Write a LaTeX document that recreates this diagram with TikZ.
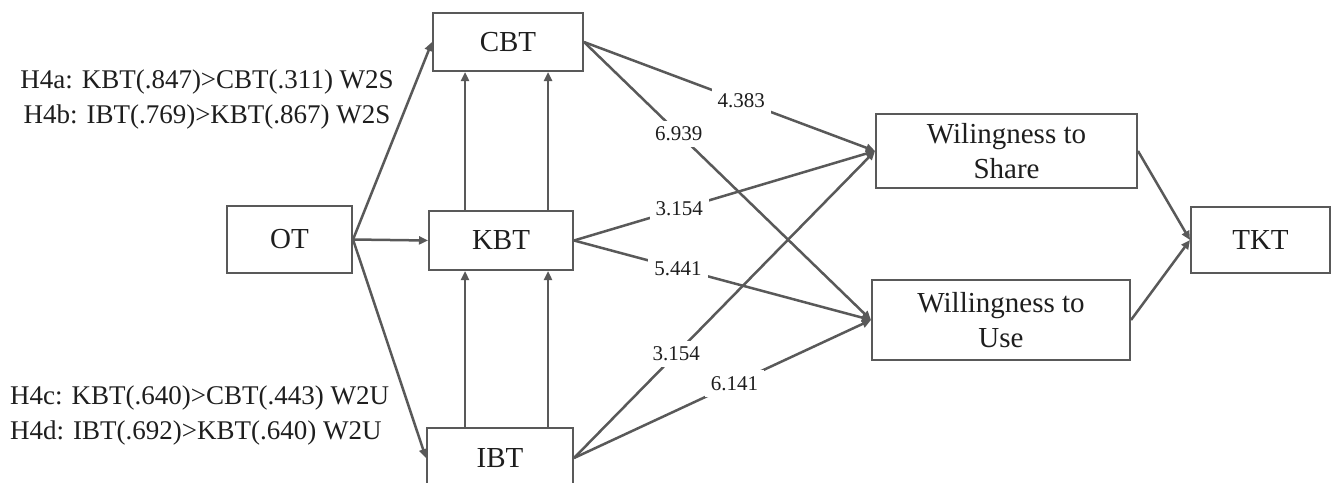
\documentclass[tikz,border=0pt]{standalone}
\usepackage{fontspec}
\setmainfont{Liberation Serif}
\usepackage{tikz}
\usetikzlibrary{arrows.meta}
\definecolor{linegray}{HTML}{595959}
\definecolor{inkgray}{HTML}{1E1E1E}
\tikzset{
  box/.style={draw=linegray, line width=2pt, fill=white, text=inkgray, inner sep=0pt, align=center, font=\fontsize{29}{35}\selectfont},
  link/.style={draw=linegray, line width=2.5pt, -{Triangle[length=9pt,width=8pt]}},
  weight/.style={fill=white, text=inkgray, inner sep=6pt, font=\fontsize{21}{24}\selectfont},
  note/.style={text=inkgray, inner sep=0pt, font=\fontsize{27}{35}\selectfont}
}
\begin{document}
\begin{tikzpicture}[scale=1,x=1pt,y=-1pt]
\useasboundingbox (0,0) rectangle (1332,482);
\fill[white] (0,0) rectangle (1332,482);
% Drawing boxes
\node[box, minimum width=125pt, minimum height=67pt] (OT) at (289.5,239.5) {OT};
\node[box, minimum width=150pt, minimum height=58pt] (CBT) at (508,42) {CBT};
\node[box, minimum width=144pt, minimum height=59pt] (KBT) at (501,240.5) {KBT};
\node[box, minimum width=146pt, minimum height=60pt] (IBT) at (500,458) {IBT};
\node[box, minimum width=261pt, minimum height=74pt] (W2S) at (1006.5,151) {Wilingness to\\Share};
\node[box, minimum width=258pt, minimum height=80pt] (W2U) at (1001,320) {Willingness to\\Use};
\node[box, minimum width=139pt, minimum height=66pt] (TKT) at (1260.5,240) {TKT};
% Done with boxes; drawing hypothesis notes
\node[note, align=center] (H4ab) at (207,99.5) {H4a: KBT(.847)>CBT(.311) W2S\\H4b: IBT(.769)>KBT(.867) W2S};
\node[note, align=left, anchor=west] (H4cd) at (10,415) {H4c: KBT(.640)>CBT(.443) W2U\\H4d: IBT(.692)>KBT(.640) W2U};
% Drawing arrows from OT
\draw[link] (OT.east) -- (CBT.west);
\draw[link] (OT.east) -- (KBT.west);
\draw[link] (OT.east) -- (IBT.west);
% Drawing vertical arrows
\draw[link] ([xshift=-36pt]KBT.north) -- ([xshift=-36pt]KBT.north |- CBT.south);
\draw[link] ([xshift=47pt]KBT.north) -- ([xshift=47pt]KBT.north |- CBT.south);
\draw[link] ([xshift=-36pt]KBT.south |- IBT.north) -- ([xshift=-36pt]KBT.south);
\draw[link] ([xshift=47pt]KBT.south |- IBT.north) -- ([xshift=47pt]KBT.south);
% Drawing weighted arrows
\draw[link] (CBT.east) -- node[weight, pos=.54] {4.383} (W2S.west);
\draw[link] (CBT.east) -- node[weight, pos=.33] {6.939} (W2U.west);
\draw[link] (KBT.east) -- node[weight, pos=.35] {3.154} (W2S.west);
\draw[link] (KBT.east) -- node[weight, pos=.35] {5.441} (W2U.west);
\draw[link] (IBT.east) -- node[weight, pos=.34] {3.154} (W2S.west);
\draw[link] (IBT.east) -- node[weight, pos=.54] {6.141} (W2U.west);
% Drawing arrows into TKT
\draw[link] (W2S.east) -- (TKT.west);
\draw[link] (W2U.east) -- (TKT.west);
% Done with arrows
\end{tikzpicture}
\end{document}
